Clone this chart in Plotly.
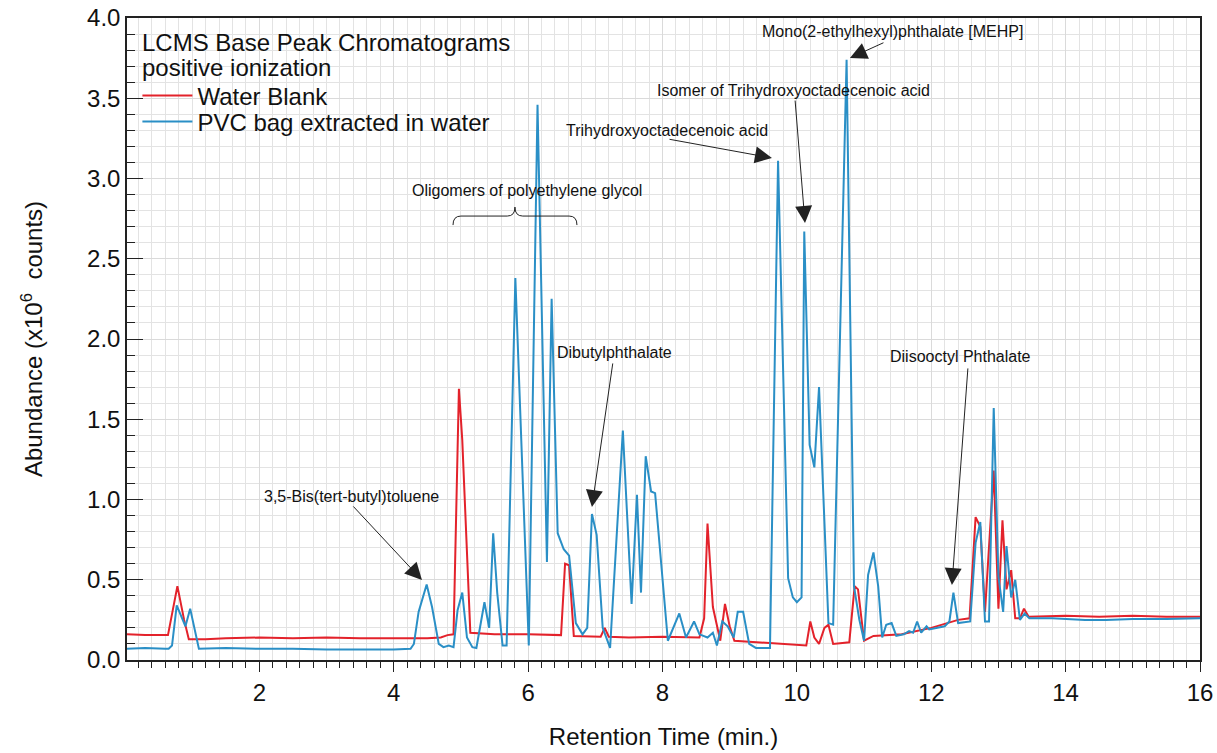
import plotly.graph_objects as go

# ---------------- data ----------------
time_blank = [0.03, 0.3, 0.6, 0.64, 0.78, 0.88, 0.95, 1.2, 1.5, 2.0, 2.5, 3.0, 3.5, 4.0,
              4.5, 4.7, 4.8, 4.89, 4.97, 5.02, 5.14, 5.5, 6.0, 6.49, 6.55, 6.61, 6.68,
              7.08, 7.14, 7.2, 7.5, 8.0, 8.42, 8.55, 8.62, 8.67, 8.75, 8.86, 8.93, 9.0,
              9.07, 9.42, 9.8, 10.02, 10.14, 10.2, 10.26, 10.33, 10.41, 10.47, 10.54,
              10.78, 10.86, 10.91, 11.0, 11.14, 11.56, 12.0, 12.3, 12.4, 12.57, 12.66,
              12.73, 12.8, 12.93, 13.0, 13.06, 13.12, 13.19, 13.25, 13.32, 13.38, 13.45,
              14.0, 14.5, 15.0, 15.5, 16.0]
abund_blank = [0.16, 0.155, 0.155, 0.155, 0.46, 0.25, 0.13, 0.13, 0.135, 0.14, 0.135, 0.14,
               0.135, 0.135, 0.135, 0.14, 0.155, 0.16, 1.69, 1.37, 0.17, 0.16, 0.16, 0.155,
               0.60, 0.59, 0.15, 0.145, 0.20, 0.145, 0.14, 0.145, 0.14, 0.14, 0.26, 0.85,
               0.33, 0.12, 0.35, 0.21, 0.12, 0.11, 0.10, 0.09, 0.09, 0.24, 0.14, 0.10, 0.20,
               0.22, 0.10, 0.11, 0.46, 0.44, 0.12, 0.15, 0.16, 0.20, 0.24, 0.25, 0.26, 0.89,
               0.83, 0.30, 1.18, 0.32, 0.87, 0.44, 0.56, 0.26, 0.26, 0.32, 0.27, 0.275, 0.27,
               0.275, 0.27, 0.27]

time_pvc = [0.03, 0.3, 0.6, 0.65, 0.70, 0.77, 0.90, 0.97, 1.10, 1.5, 2.0, 2.5, 3.0, 3.5,
            4.0, 4.25, 4.3, 4.37, 4.49, 4.57, 4.67, 4.74, 4.82, 4.89, 4.95, 5.02, 5.09,
            5.17, 5.23, 5.35, 5.42, 5.48, 5.54, 5.62, 5.68, 5.81, 6.01, 6.14, 6.28, 6.35,
            6.44, 6.53, 6.61, 6.71, 6.81, 6.88, 6.95, 7.02, 7.11, 7.22, 7.41, 7.54, 7.62,
            7.68, 7.75, 7.83, 7.89, 8.08, 8.25, 8.35, 8.47, 8.55, 8.67, 8.75, 8.81, 8.89,
            8.97, 9.06, 9.12, 9.20, 9.29, 9.39, 9.60, 9.72, 9.87, 9.94, 10.00, 10.07,
            10.11, 10.19, 10.26, 10.33, 10.47, 10.54, 10.74, 10.85, 10.93, 11.00, 11.06,
            11.14, 11.21, 11.27, 11.33, 11.41, 11.48, 11.59, 11.67, 11.73, 11.79, 11.85,
            11.93, 11.97, 12.10, 12.20, 12.27, 12.33, 12.40, 12.58, 12.66, 12.73, 12.80,
            12.86, 12.93, 13.00, 13.07, 13.12, 13.19, 13.25, 13.32, 13.39, 13.46, 13.8,
            14.29, 14.6, 15.0, 15.5, 16.0]
abund_pvc = [0.07, 0.075, 0.07, 0.07, 0.09, 0.34, 0.21, 0.32, 0.07, 0.075, 0.07, 0.07,
             0.065, 0.065, 0.065, 0.07, 0.10, 0.30, 0.47, 0.33, 0.10, 0.08, 0.09, 0.08,
             0.31, 0.42, 0.14, 0.08, 0.075, 0.36, 0.20, 0.79, 0.42, 0.09, 0.09, 2.38, 0.09,
             3.46, 0.61, 2.25, 0.79, 0.69, 0.65, 0.23, 0.16, 0.20, 0.91, 0.78, 0.20, 0.075,
             1.43, 0.35, 1.03, 0.42, 1.27, 1.05, 1.04, 0.12, 0.29, 0.14, 0.24, 0.16, 0.14,
             0.17, 0.09, 0.24, 0.21, 0.14, 0.30, 0.30, 0.10, 0.075, 0.075, 3.11, 0.51, 0.39,
             0.36, 0.39, 2.67, 1.34, 1.20, 1.70, 0.23, 0.22, 3.74, 0.46, 0.25, 0.12, 0.53,
             0.67, 0.46, 0.14, 0.22, 0.23, 0.15, 0.16, 0.18, 0.17, 0.24, 0.17, 0.21, 0.19,
             0.20, 0.21, 0.24, 0.42, 0.23, 0.24, 0.73, 0.86, 0.24, 0.24, 1.57, 0.52, 0.30,
             0.71, 0.39, 0.50, 0.25, 0.29, 0.26, 0.26, 0.25, 0.25, 0.255, 0.255, 0.26]

x_tick_vals = [2, 4, 6, 8, 10, 12, 14, 16]
y_tick_vals = [0.0, 0.5, 1.0, 1.5, 2.0, 2.5, 3.0, 3.5, 4.0]

legend_title_lines = ["LCMS Base Peak Chromatograms", "positive ionization"]

# annotation labels: (text, x, y)
labels = [
    ("3,5-Bis(tert-butyl)toluene", 3.364, 1.016),
    ("Oligomers of polyethylene glycol", 5.983, 2.928),
    ("Dibutylphthalate", 7.293, 1.919),
    ("Trihydroxyoctadecenoic acid", 8.067, 3.302),
    ("Isomer of Trihydroxyoctadecenoic acid", 9.957, 3.551),
    ("Mono(2-ethylhexyl)phthalate [MEHP]", 11.43, 3.913),
    ("Diisooctyl Phthalate", 12.442, 1.888),
]
# arrows: (tail x, tail y, tip x, tip y)
arrows = [
    (3.378, 0.966, 4.42, 0.498),
    (7.263, 1.857, 6.95, 0.953),
    (8.082, 3.246, 9.629, 3.128),
    (9.972, 3.495, 10.121, 2.723),
    (11.311, 3.85, 10.79, 3.751),
    (12.547, 1.826, 12.308, 0.467),
]

RED = "#e3222b"
BLUE = "#2a8fc6"
FONT = "Liberation Sans, Arial, sans-serif"

fig = go.Figure()
fig.add_trace(go.Scatter(x=time_blank, y=abund_blank, mode="lines", name="Water Blank",
                         line=dict(color=RED, width=2), legend="legend"))
fig.add_trace(go.Scatter(x=time_pvc, y=abund_pvc, mode="lines",
                         name="PVC bag extracted in water",
                         line=dict(color=BLUE, width=2), legend="legend2"))

annotations = []
# legend header lines
for i, line in enumerate(legend_title_lines):
    annotations.append(dict(x=0.012, y=[0.962, 0.923][i], xref="paper", yref="paper",
                            xanchor="left", yanchor="middle", text=line, showarrow=False,
                            font=dict(family=FONT, size=24, color="#111")))
for text, x, y in labels:
    annotations.append(dict(x=x, y=y, xref="x", yref="y", text=text, showarrow=False,
                            font=dict(family=FONT, size=16, color="#111")))
for tx, ty, hx, hy in arrows:
    annotations.append(dict(x=hx, y=hy, ax=tx, ay=ty, xref="x", yref="y", axref="x",
                            ayref="y", text="", showarrow=True, arrowhead=2,
                            arrowsize=3.4, arrowwidth=1, arrowcolor="#222", standoff=0))

brace = ("M 4.882,2.710 Q 4.882,2.766 5.0,2.766 L 5.69,2.766 Q 5.804,2.766 5.804,2.822 "
         "Q 5.804,2.766 5.92,2.766 L 6.61,2.766 Q 6.727,2.766 6.727,2.710")

legend_common = dict(xanchor="left", yanchor="middle", bgcolor="rgba(0,0,0,0)",
                     borderwidth=0, font=dict(family=FONT, size=24, color="#111"),
                     itemwidth=50)

fig.update_layout(
    width=1217, height=753,
    margin=dict(l=127, r=17, t=18, b=93, autoexpand=False),
    paper_bgcolor="white", plot_bgcolor="white",
    font=dict(family=FONT, size=24, color="#111"),
    showlegend=True,
    legend=dict(x=0.0097, y=0.8785, **legend_common),
    legend2=dict(x=0.0097, y=0.838, **legend_common),
    annotations=annotations,
    shapes=[dict(type="path", path=brace, xref="x", yref="y",
                 line=dict(color="#222", width=1))],
    xaxis=dict(range=[0.03, 16], tickvals=x_tick_vals, ticks="outside", ticklen=10,
               tickwidth=1.2, tickcolor="#222", automargin=False,
               minor=dict(dtick=0.2, ticks="outside", ticklen=6, tickcolor="#222",
                          showgrid=True, gridcolor="#e3e3e3", gridwidth=1),
               showgrid=True, gridcolor="#dadada", gridwidth=1,
               showline=True, linecolor="#222", linewidth=1.5, mirror=True,
               zeroline=False, tickfont=dict(size=24),
               title=dict(text="Retention Time (min.)", font=dict(size=24), standoff=24)),
    yaxis=dict(range=[0, 4.0], tickvals=y_tick_vals, tickformat=".1f", ticks="inside",
               ticklen=16, tickwidth=1.2, tickcolor="#222", automargin=False,
               minor=dict(dtick=0.1, ticks="inside", ticklen=8, tickcolor="#222",
                          showgrid=True, gridcolor="#e3e3e3", gridwidth=1),
               showgrid=True, gridcolor="#dadada", gridwidth=1,
               showline=True, linecolor="#222", linewidth=1.5, mirror=True,
               zeroline=False, tickfont=dict(size=24),
               title=dict(text="Abundance (x10<sup>6</sup>  counts)", font=dict(size=24),
                          standoff=38)),
)

fig.write_html("out.html")
